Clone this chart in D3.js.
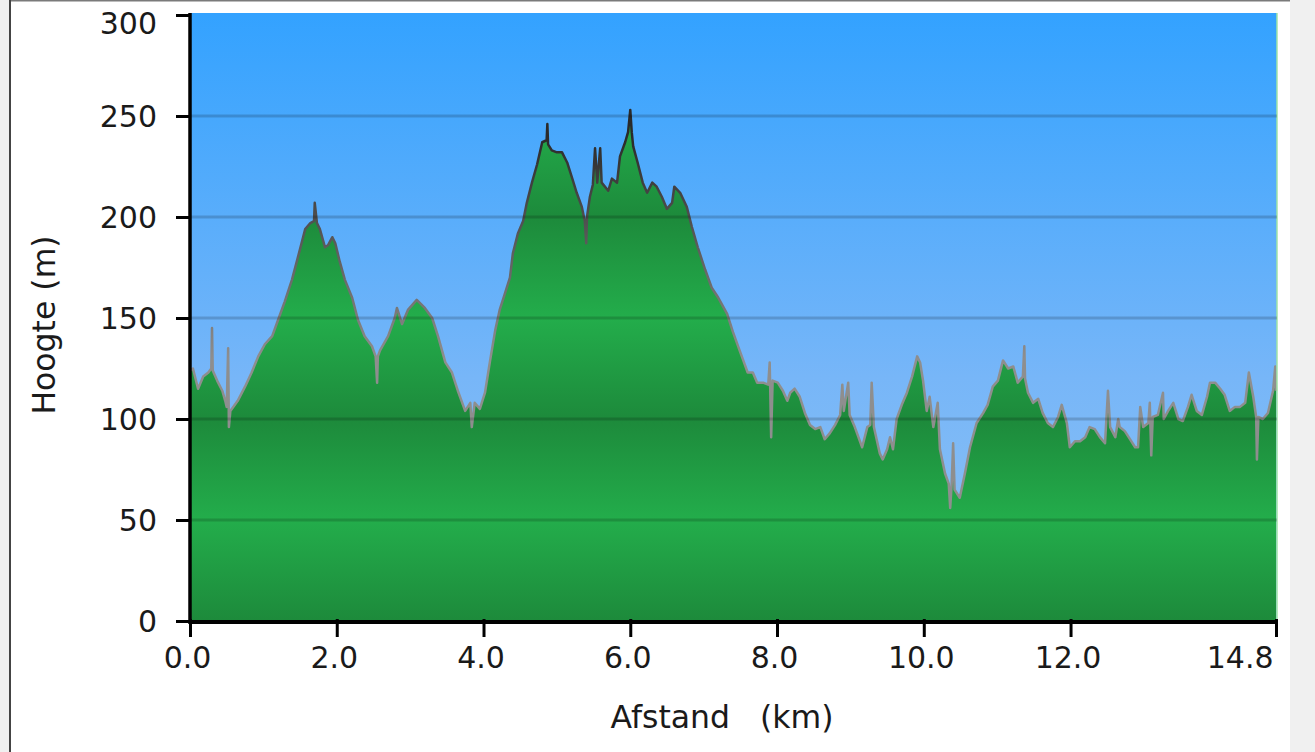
<!DOCTYPE html>
<html>
<head>
<meta charset="utf-8">
<script src="https://cdn.jsdelivr.net/npm/d3@7"></script>
<style>
  html, body { margin: 0; padding: 0; background: #f0f0f0; }
  svg { display: block; }
  text { font-family: "DejaVu Sans", Verdana, sans-serif; }
</style>
</head>
<body>
<svg id="chart" width="1315" height="752"></svg>
<script>
// ---- data ----
const distanceKm = [0.00,0.04,0.11,0.18,0.25,0.29,0.30,0.31,0.37,0.44,
  0.48,0.50,0.52,0.53,0.55,0.65,0.75,0.84,0.93,1.02,
  1.12,1.20,1.29,1.39,1.47,1.57,1.64,1.69,1.70,1.73,
  1.77,1.84,1.88,1.94,1.98,2.04,2.11,2.21,2.29,2.38,
  2.48,2.53,2.55,2.56,2.59,2.70,2.79,2.82,2.89,2.97,
  3.09,3.20,3.30,3.38,3.48,3.57,3.65,3.75,3.82,3.84,
  3.88,3.95,4.02,4.09,4.16,4.22,4.29,4.36,4.40,4.47,
  4.54,4.59,4.66,4.73,4.80,4.86,4.87,4.88,4.93,5.00,
  5.07,5.14,5.21,5.27,5.34,5.38,5.40,5.41,5.45,5.49,
  5.52,5.55,5.59,5.61,5.70,5.75,5.82,5.86,5.93,5.97,
  6.00,6.02,6.04,6.10,6.17,6.23,6.30,6.36,6.43,6.50,
  6.57,6.60,6.68,6.77,6.84,6.92,7.02,7.11,7.20,7.32,
  7.40,7.50,7.54,7.60,7.67,7.73,7.81,7.88,7.90,7.92,
  7.94,8.01,8.08,8.14,8.18,8.24,8.31,8.38,8.45,8.52,
  8.59,8.65,8.72,8.79,8.86,8.89,8.91,8.97,8.99,9.06,
  9.16,9.23,9.27,9.29,9.32,9.40,9.44,9.50,9.54,9.58,
  9.63,9.70,9.77,9.84,9.91,9.95,9.99,10.04,10.08,10.13,
  10.19,10.22,10.29,10.34,10.36,10.38,10.40,10.42,10.49,10.56,
  10.63,10.72,10.81,10.87,10.94,11.01,11.08,11.15,11.22,11.28,
  11.35,11.37,11.38,11.42,11.49,11.56,11.62,11.69,11.76,11.83,
  11.88,11.95,11.99,12.06,12.13,12.20,12.26,12.33,12.40,12.47,
  12.51,12.54,12.61,12.65,12.67,12.74,12.81,12.88,12.92,12.95,
  12.99,13.06,13.08,13.10,13.12,13.19,13.26,13.27,13.33,13.40,
  13.47,13.53,13.60,13.65,13.72,13.79,13.86,13.90,13.97,14.04,
  14.10,14.17,14.24,14.31,14.38,14.43,14.49,14.53,14.54,14.56,
  14.62,14.69,14.76,14.79,14.80];

const elevationM = [124,125,115,121,123,125,145,124,119,114,
  109,106,135,96,104,109,116,123,131,137,
  141,149,158,169,180,194,197,198,207,197,
  194,185,186,190,187,178,169,160,149,141,
  136,131,118,131,134,141,150,155,147,154,
  159,155,150,141,128,123,114,104,108,96,
  108,105,113,129,144,154,162,170,182,192,
  198,207,217,226,237,238,246,236,233,232,
  232,227,219,212,205,198,187,200,210,216,
  234,217,234,217,213,219,217,230,237,242,
  253,242,235,227,217,212,217,215,210,204,
  207,215,212,205,195,185,174,165,160,152,
  143,133,129,123,123,118,118,117,128,91,
  119,118,114,109,113,115,111,103,97,95,
  96,90,93,97,102,117,104,118,102,96,
  86,96,97,118,96,83,80,85,91,85,
  100,107,113,121,131,128,119,104,111,96,
  108,85,73,68,56,68,88,65,61,73,
  86,98,103,107,116,119,129,125,126,118,
  121,136,120,113,108,110,103,98,96,101,
  107,98,86,89,89,91,96,95,91,88,
  114,96,91,100,96,94,90,86,86,106,
  96,98,108,82,101,102,113,100,104,108,
  100,99,106,112,104,102,111,118,118,115,
  112,104,106,106,108,123,111,101,80,101,
  100,103,114,126,114];

const yTickValues = [0, 50, 100, 150, 200, 250, 300];
const gridValues = [50, 100, 150, 200, 250];
const xTickValues = [0, 2, 4, 6, 8, 10, 12, 14.8];
const yAxisTitle = "Hoogte (m)";
const xAxisTitle = "Afstand   (km)";

// ---- layout ----
const svg = d3.select("#chart");
const plotL = 190, plotR = 1276, plotT = 15, plotB = 621;
const x = d3.scaleLinear().domain([0, 14.8]).range([plotL, plotR]);
const y = d3.scaleLinear().domain([0, 300]).range([plotB, plotT]);

const profile = distanceKm.map((d, i) => ({ km: d, m: elevationM[i] }));

// panel
svg.append("rect").attr("x", 9).attr("y", 0).attr("width", 1281).attr("height", 752).attr("fill", "#ffffff");
svg.append("line").attr("x1", 9).attr("x2", 1290).attr("y1", 0.5).attr("y2", 0.5).attr("stroke", "#7a7a7a").attr("stroke-width", 2);
svg.append("line").attr("x1", 10).attr("x2", 10).attr("y1", 0).attr("y2", 752).attr("stroke", "#444").attr("stroke-width", 2);

const defs = svg.append("defs");
const sky = defs.append("linearGradient").attr("id", "sky")
  .attr("gradientUnits", "userSpaceOnUse").attr("x1", 0).attr("x2", 0).attr("y1", 13).attr("y2", plotB);
sky.append("stop").attr("offset", 0).attr("stop-color", "#33a2ff");
sky.append("stop").attr("offset", 0.6).attr("stop-color", "#77b6f8");
sky.append("stop").attr("offset", 1).attr("stop-color", "#8ec2f2");

const ground = defs.append("linearGradient").attr("id", "ground")
  .attr("gradientUnits", "userSpaceOnUse").attr("spreadMethod", "repeat")
  .attr("x1", 0).attr("x2", 0).attr("y1", y(200)).attr("y2", y(100));
ground.append("stop").attr("offset", 0).attr("stop-color", "#1d8a3b");
ground.append("stop").attr("offset", 0.5).attr("stop-color", "#23ad4b");
ground.append("stop").attr("offset", 1).attr("stop-color", "#1d8a3b");

const outline = defs.append("linearGradient").attr("id", "outline")
  .attr("gradientUnits", "userSpaceOnUse")
  .attr("x1", 0).attr("x2", 0).attr("y1", y(240)).attr("y2", y(130));
outline.append("stop").attr("offset", 0).attr("stop-color", "#2a2a2a");
outline.append("stop").attr("offset", 1).attr("stop-color", "#8e8e8e");

// sky
svg.append("rect").attr("x", plotL).attr("y", 13).attr("width", plotR - plotL + 1).attr("height", plotB - 13)
  .attr("fill", "url(#sky)");

// ground area
const area = d3.area().x(d => x(d.km)).y0(y(0)).y1(d => y(d.m));
svg.append("path").datum(profile).attr("d", area).attr("fill", "url(#ground)");

// outline
const line = d3.line().x(d => x(d.km)).y(d => y(d.m));
svg.append("path").datum(profile).attr("d", line)
  .attr("fill", "none").attr("stroke", "url(#outline)").attr("stroke-width", 2.5)
  .attr("stroke-linejoin", "round");

// right edge highlight
svg.append("line").attr("x1", plotR + 1).attr("x2", plotR + 1).attr("y1", 13).attr("y2", plotB)
  .attr("stroke", "#9fe3a6").attr("stroke-width", 1.5);

// grid lines
svg.append("g").selectAll("line").data(gridValues).join("line")
  .attr("x1", plotL).attr("x2", plotR + 1)
  .attr("y1", d => y(d)).attr("y2", d => y(d))
  .attr("stroke", "rgba(0,0,0,0.17)").attr("stroke-width", 3);

// y axis
const yAxis = svg.append("g").attr("transform", `translate(${plotL},0)`)
  .call(d3.axisLeft(y).tickValues(yTickValues).tickSize(14).tickSizeOuter(0).tickPadding(19));
yAxis.select(".domain").attr("stroke", "#000").attr("stroke-width", 3.5).attr("d", `M0,13V${plotB + 3}`);
yAxis.selectAll(".tick line").attr("stroke", "#000").attr("stroke-width", 3);
yAxis.selectAll(".tick text").attr("font-size", 30).attr("fill", "#1a1a1a")
  .attr("font-family", "DejaVu Sans, Verdana, sans-serif")
  .attr("y", d => (d === 300 ? 9 : 1));

// x axis
const xAxis = svg.append("g").attr("transform", `translate(0,${plotB + 1})`)
  .call(d3.axisBottom(x).tickValues(xTickValues).tickSize(15).tickSizeOuter(0).tickPadding(10)
    .tickFormat(d => d.toFixed(1)));
xAxis.select(".domain").attr("stroke", "#000").attr("stroke-width", 4).attr("d", `M${plotL},0H${plotR + 1}`);
xAxis.selectAll(".tick line").attr("stroke", "#000").attr("stroke-width", 3).attr("y1", -3);
xAxis.selectAll(".tick text").attr("font-size", 30).attr("fill", "#1a1a1a")
  .attr("font-family", "DejaVu Sans, Verdana, sans-serif")
  .attr("text-anchor", d => (d === 14.8 ? "end" : "middle"))
  .attr("dx", d => (d === 14.8 ? -3 : -3));

// axis titles
svg.append("text").attr("transform", "translate(55,325) rotate(-90)")
  .attr("text-anchor", "middle").attr("font-size", 31.5).attr("fill", "#1a1a1a").text(yAxisTitle);
svg.append("text").attr("x", 722).attr("y", 728).attr("text-anchor", "middle")
  .attr("font-size", 31.5).attr("fill", "#1a1a1a").style("white-space", "pre").text(xAxisTitle);
</script>
</body>
</html>
